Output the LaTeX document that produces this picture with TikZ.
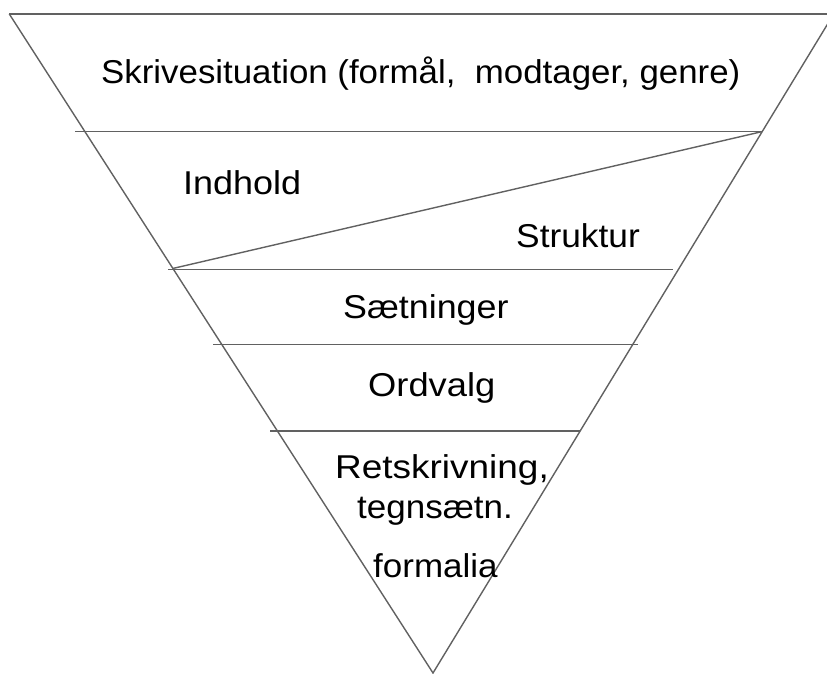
\documentclass[tikz,border=0pt]{standalone}
\usepackage{fontspec}
\setmainfont{Liberation Sans}
% horizontally widened label text
\newcommand{\widetext}[2]{\scalebox{#1}[1]{#2}}
\begin{document}
\begin{tikzpicture}[x=1pt,y=-1pt,
  rule/.style={draw=black!62,line width=1.4pt},
  lbl/.style={font=\fontsize{33}{38}\selectfont,inner sep=0pt,anchor=base west}]
\useasboundingbox (0,0) rectangle (827,674);
\clip (0,0) rectangle (827,674);
% outline of the inverted triangle
\coordinate (tl) at (9.3,14);
\coordinate (tr) at (833.7,14);
\coordinate (apex) at (433,673);
\coordinate (topR) at (827,14);
\draw[rule] (tl) -- (topR);
\draw[rule] (tl) -- (apex) -- (tr);
% layer dividers
\coordinate (a1) at (75,131.7);   \coordinate (a2) at (761.7,131.7);
\coordinate (b1) at (168,269.3);  \coordinate (b2) at (673,269.3);
\coordinate (c1) at (213,344.3);  \coordinate (c2) at (638,344.3);
\coordinate (d1) at (270,431);    \coordinate (d2) at (580,431);
\coordinate (s1) at (172.7,268.5);
\draw[rule] (a1) -- (a2);
\draw[rule] (b1) -- (b2);
\draw[rule] (c1) -- (c2);
\draw[rule] (d1) -- (d2);
\draw[rule] (s1) -- (a2);
% labels
\node[lbl] (t1) at (101,84) {\widetext{1.056}{Skrivesituation (formål,\ \ modtager, genre)}};
\node[lbl] (t2) at (183,194) {\widetext{1.09}{Indhold}};
\node[lbl] (t3) at (516,247) {\widetext{1.07}{Struktur}};
\node[lbl] (t4) at (343,318) {\widetext{1.086}{Sætninger}};
\node[lbl] (t5) at (368,396) {\widetext{1.10}{Ordvalg}};
\node[lbl] (t6) at (335,478) {\widetext{1.12}{Retskrivning,}};
\node[lbl] (t7) at (357,518) {\widetext{1.06}{tegnsætn.}};
\node[lbl] (t8) at (373,577) {\widetext{1.06}{formalia}};
\end{tikzpicture}
\end{document}
